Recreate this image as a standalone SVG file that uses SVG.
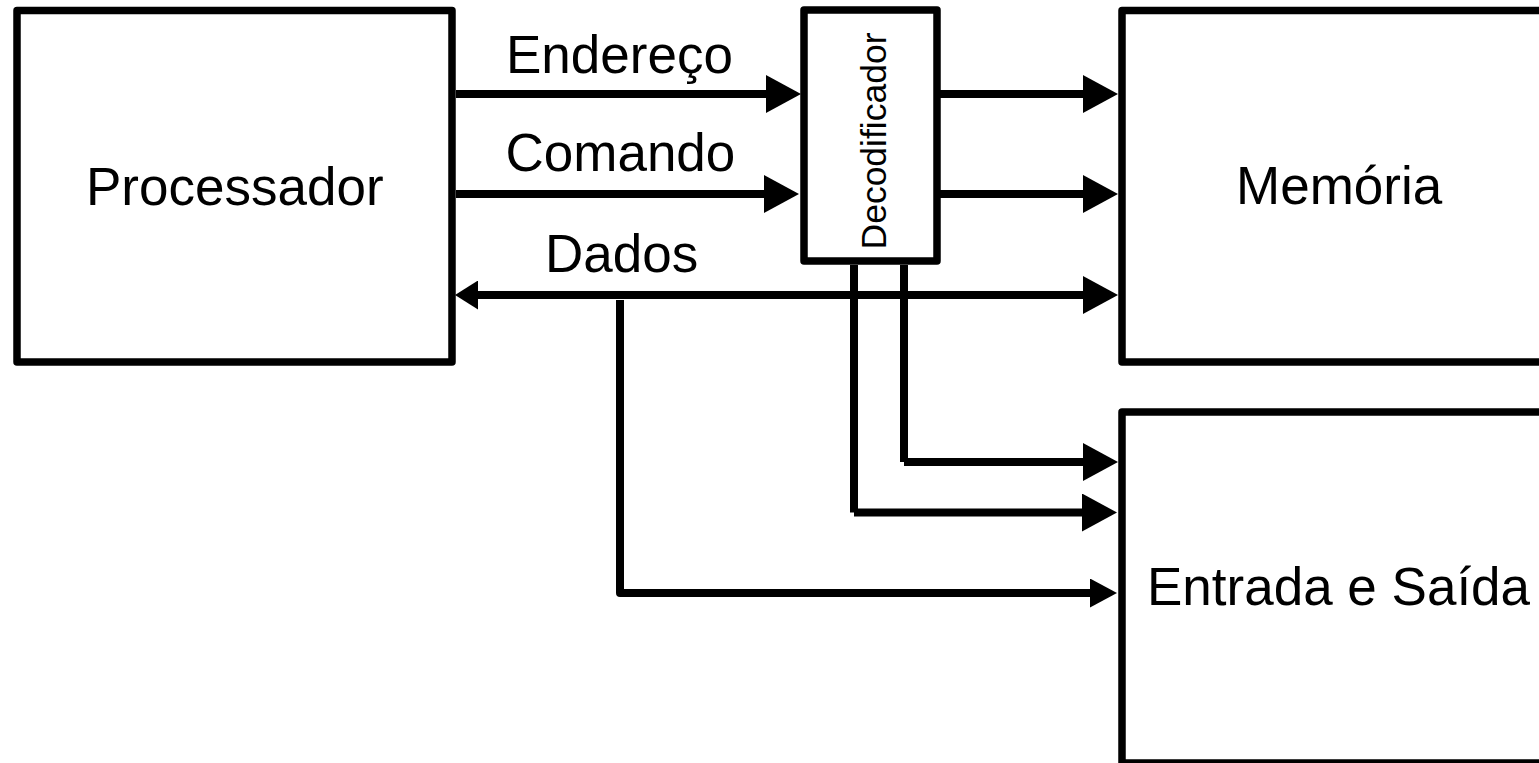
<svg xmlns="http://www.w3.org/2000/svg" width="1539" height="763" viewBox="0 0 1539 763">
<style>
.box{fill:#fff;stroke:#000;stroke-width:7.5;stroke-linejoin:round}
.ln{fill:none;stroke:#000;stroke-width:8;stroke-linecap:butt}
.lbl{font-family:"Liberation Sans",Arial,sans-serif;font-size:53px;fill:#000}
.dec{font-family:"Liberation Sans",Arial,sans-serif;font-size:35.5px;fill:#000}
</style>
<defs>
<marker id="big" markerUnits="userSpaceOnUse" viewBox="0 0 35 38" refX="1" refY="19" markerWidth="35" markerHeight="38" orient="auto">
<path d="M0,0 L35,19 L0,38 Z" fill="#000"/>
</marker>
<marker id="small" markerUnits="userSpaceOnUse" viewBox="0 0 27 29" refX="1" refY="14.5" markerWidth="27" markerHeight="29" orient="auto">
<path d="M0,0 L27,14.5 L0,29 Z" fill="#000"/>
</marker>
<marker id="smallStart" markerUnits="userSpaceOnUse" viewBox="0 0 23 29" refX="22" refY="14.5" markerWidth="23" markerHeight="29" orient="auto">
<path d="M23,0 L0,14.5 L23,29 Z" fill="#000"/>
</marker>
</defs>

<g id="connectors">
<line class="ln" x1="456" y1="94" x2="767" y2="94" marker-end="url(#big)"/>
<line class="ln" x1="456" y1="194" x2="765" y2="194" marker-end="url(#big)"/>
<line class="ln" x1="940" y1="94" x2="1084" y2="94" marker-end="url(#big)"/>
<line class="ln" x1="940" y1="194" x2="1084" y2="194" marker-end="url(#big)"/>
<line class="ln" x1="477" y1="295" x2="1084" y2="295" marker-start="url(#smallStart)" marker-end="url(#big)"/>
<path class="ln" d="M620,300 L620,593 L1091,593" stroke-linejoin="round" marker-end="url(#small)"/>
<line class="ln" x1="854" y1="265" x2="854" y2="512.5"/>
<line class="ln" x1="854" y1="512.5" x2="1083" y2="512.5" marker-end="url(#big)"/>
<line class="ln" x1="904" y1="265" x2="904" y2="462"/>
<line class="ln" x1="904" y1="462" x2="1084" y2="462" marker-end="url(#big)"/>
</g>

<g id="processador">
<rect class="box" x="17" y="10.5" width="435" height="351.5"/>
<text class="lbl" x="86" y="205">Processador</text>
</g>

<g id="decodificador">
<rect class="box" x="804" y="10" width="133" height="251"/>
<text class="dec" transform="translate(886,249.5) rotate(-90)" x="0" y="0">Decodificador</text>
</g>

<g id="memoria">
<rect class="box" x="1122" y="10.5" width="500" height="351.5"/>
<text class="lbl" x="1236" y="204">Memória</text>
</g>

<g id="entrada-saida">
<rect class="box" x="1122" y="412" width="500" height="351"/>
<text class="lbl" x="1147" y="605">Entrada e Saída</text>
</g>

<g id="labels">
<text class="lbl" x="506" y="73">Endereço</text>
<text class="lbl" x="505.5" y="171">Comando</text>
<text class="lbl" x="545" y="272">Dados</text>
</g>
</svg>
